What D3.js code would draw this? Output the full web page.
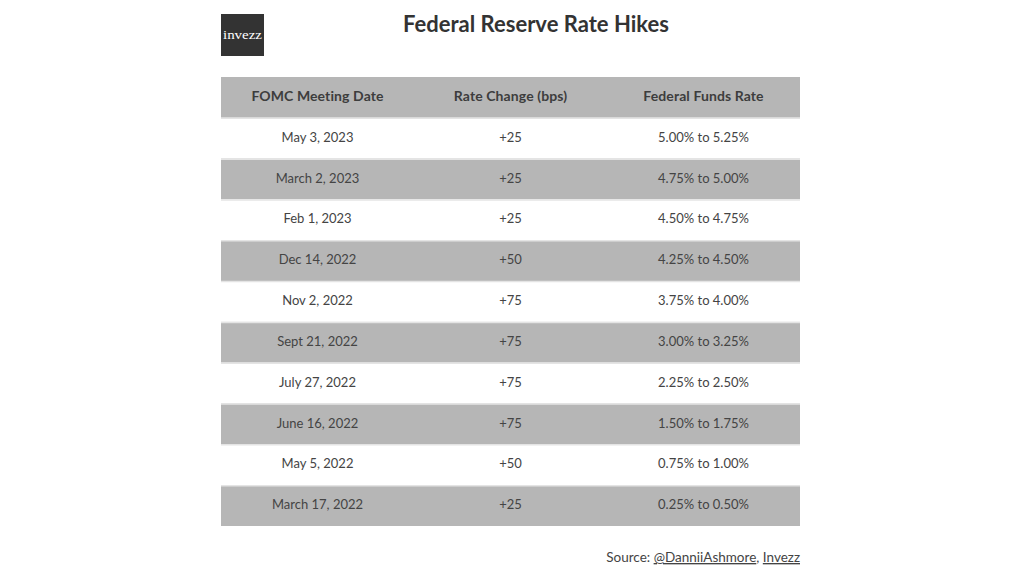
<!DOCTYPE html>
<html><head><meta charset="utf-8">
<script src="https://cdn.jsdelivr.net/npm/d3@7"></script>
<style>
body{margin:0;background:#fff;}
svg text{font-family:"Source Sans Pro","Lato","Noto Sans",sans-serif;}
</style></head>
<body><svg id="c" width="1020" height="576"></svg>
<script>
const headers = ["FOMC Meeting Date", "Rate Change (bps)", "Federal Funds Rate"];
const dates = ["May 3, 2023","March 2, 2023","Feb 1, 2023","Dec 14, 2022","Nov 2, 2022","Sept 21, 2022","July 27, 2022","June 16, 2022","May 5, 2022","March 17, 2022"];
const changes = ["+25","+25","+25","+50","+75","+75","+75","+75","+50","+25"];
const rates = ["5.00% to 5.25%","4.75% to 5.00%","4.50% to 4.75%","4.25% to 4.50%","3.75% to 4.00%","3.00% to 3.25%","2.25% to 2.50%","1.50% to 1.75%","0.75% to 1.00%","0.25% to 0.50%"];
const title = "Federal Reserve Rate Hikes";

const svg = d3.select("#c");
const rows = dates.map((d,i)=>[d, changes[i], rates[i]]);
const all = [headers, ...rows];

const x = d3.scaleBand().domain([0,1,2]).range([221,800]);
const y = d3.scaleBand().domain(d3.range(all.length)).range([77,526]);

const g = svg.append("g");
const rg = g.selectAll("g.row").data(all).join("g").attr("class","row");
rg.append("rect")
  .attr("x",221).attr("width",579)
  .attr("y",(d,i)=>y(i)).attr("height",y.bandwidth())
  .attr("fill",(d,i)=> i%2===0 ? "#b6b6b6" : "#ffffff");
rg.filter((d,i)=>i>0).append("line")
  .attr("x1",221).attr("x2",800)
  .attr("y1",(d,i)=>y(i+1)+0.5).attr("y2",(d,i)=>y(i+1)+0.5)
  .attr("stroke","#e4e4e4").attr("stroke-width",1.5);
rg.each(function(row,i){
  d3.select(this).selectAll("text").data(row).join("text")
    .attr("x",(d,j)=>x(j)+x.bandwidth()/2)
    .attr("y",y(i)+y.bandwidth()/2 - 1)
    .attr("dy","0.35em")
    .attr("text-anchor","middle")
    .attr("font-size", i===0 ? 14 : 13)
    .attr("font-weight", i===0 ? 700 : 400)
    .attr("letter-spacing", i===0 ? 0.1 : 0)
    .attr("fill", i===0 ? "#3d3d3d" : "#444")
    .text(d=>d);
});

// title
svg.append("text").attr("x",536).attr("y",32).attr("text-anchor","middle")
  .attr("font-size",22).attr("font-weight",700).attr("fill","#333").text(title);

// logo
svg.append("rect").attr("x",221).attr("y",14).attr("width",43).attr("height",42).attr("fill","#333");
svg.append("text").attr("x",223).attr("y",39)
  .style("font-family","'Liberation Serif','DejaVu Serif',serif").attr("font-size",13.5).attr("font-weight",400)
  .attr("textLength",39).attr("lengthAdjust","spacingAndGlyphs")
  .attr("fill","#fff").text("invezz");

// source
const src = svg.append("text").attr("x",800).attr("y",562).attr("text-anchor","end")
  .attr("font-size",13.5).attr("fill","#444");
src.append("tspan").text("Source: ");
src.append("tspan").attr("text-decoration","underline").text("@DanniiAshmore");
src.append("tspan").text(", ");
src.append("tspan").attr("text-decoration","underline").text("Invezz");
</script></body></html>
